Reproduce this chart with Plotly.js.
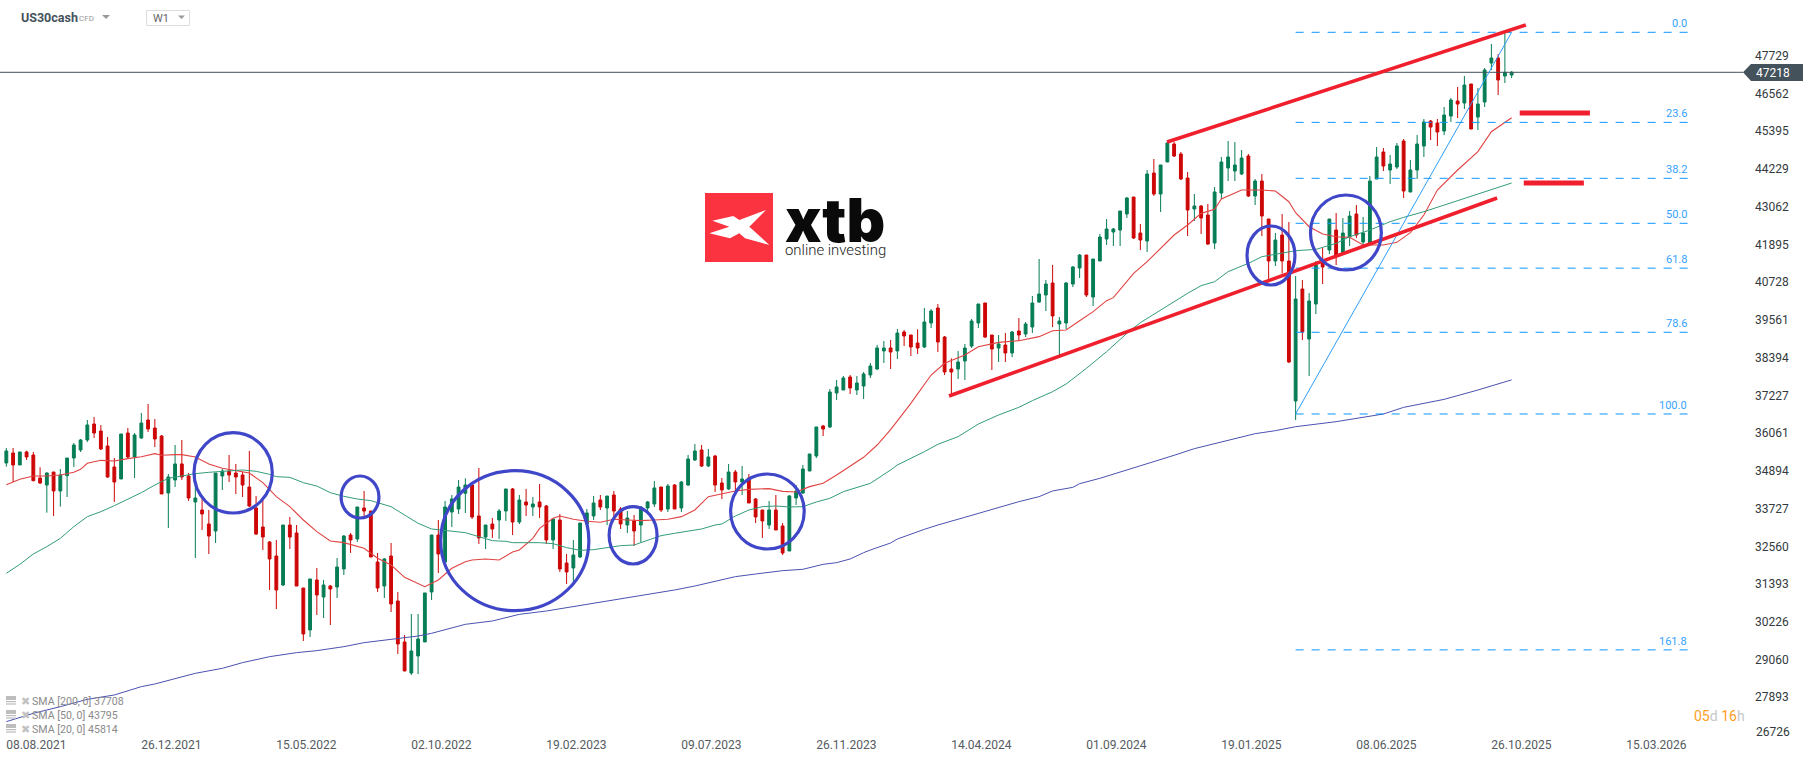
<!DOCTYPE html>
<html><head><meta charset="utf-8">
<script src="https://cdn.plot.ly/plotly-3.0.1.min.js"></script>
<style>html,body{margin:0;padding:0;background:#fff;overflow:hidden}#chart{width:1815px;height:761px}</style>
</head><body><div id="chart"></div>
<script>
const startDate = Date.UTC(2021, 7, 8);
const opens = [35138,35447,35076,35478,35385,34674,34457,34859,34272,34746,35292,35540,35849,36343,36127,35663,35014,34643,36065,35323,35911,36467,36220,35972,34210,34612,35107,34736,33932,33684,33251,33035,34736,34890,34828,34767,34395,33746,33159,32695,32262,31365,33220,32973,31272,29974,31520,30994,31334,31303,31860,32911,32788,33746,33653,32076,31334,32262,30870,29603,28644,29170,29603,31149,32911,32076,33622,33715,34200,34457,33499,32849,33251,33375,33653,34334,33313,33932,33777,33932,33808,32757,33375,32045,31891,32231,33251,33499,33993,33746,34148,33715,33220,33344,33220,33746,33870,34395,33715,34457,33746,34457,35230,35540,35045,35354,34519,34334,34859,34550,34674,34024,33684,33220,33684,33190,32416,34055,34210,34890,35354,36282,36251,37302,37395,37797,37395,37519,37859,38044,38601,38694,38601,39188,39095,38848,38724,39466,39930,39033,38044,38044,38291,38755,39466,40085,39095,38693,38786,38539,39219,39126,39343,40116,40332,40703,39435,39466,40672,41167,41569,40270,41383,42064,42280,42342,42837,43362,42249,42002,44104,43455,44445,45001,44692,43950,42991,43084,42806,41940,43486,44259,44166,44073,44630,43393,43857,42682,41383,42187,41383,37054,40517,38971,40053,41352,41723,42341,41630,42125,42836,41970,41908,43918,44753,44197,44289,45093,43516,44197,44939,45712,45650,45403,45866,46330,46268,46856,45835,46299,47505,47660,47103,47134];
const highs = [35601,35601,35478,35519,35478,35004,34849,34859,34952,35292,35756,35880,36467,36560,36313,35941,35292,36034,36220,36065,36684,36962,36498,36003,34797,35694,35849,34828,34818,34097,33684,34828,34952,35385,35107,34870,35509,34117,33993,32726,32757,33220,33468,33220,31272,31551,31891,31520,31365,32200,32911,32973,33777,34272,33653,32355,32200,32664,31149,29819,30468,30468,31118,32911,33375,33963,34148,34612,34663,34457,34983,33220,33437,33715,34334,34365,34148,34334,34086,34488,33839,33406,33561,32324,32757,33282,33715,34117,34148,34117,34272,33777,33653,33530,33808,33963,34581,34395,34488,34488,34581,35385,35725,35694,35570,35385,34674,35107,34921,35045,34797,34055,33684,33963,34148,33282,34148,34457,35076,35416,36251,36313,37425,37704,37828,37859,37828,37952,38230,38786,38910,38941,39281,39250,39095,39270,39930,39899,40054,39064,38374,38600,38817,39590,40054,40085,39095,39095,39157,39219,39621,39497,40301,41445,40796,41260,39652,40734,41229,41600,41569,41445,42218,42682,42404,42929,43362,43362,42527,44197,44537,44352,45063,45063,44754,44135,43455,43115,43146,43671,44599,45094,45063,44816,44692,43919,44073,42682,42249,42836,42589,40919,40795,40393,41383,41785,42682,42867,42712,42929,43114,42743,44011,44908,44877,44660,45032,45155,44506,45279,45774,45743,45774,46145,46423,46763,47103,46856,46732,47351,48093,47783,48453,47258];
const lows = [35024,34550,35076,35230,34571,34488,33602,33499,33787,34086,35014,35478,35787,35911,35540,34674,33932,34643,35292,34674,35880,36096,35632,34179,33128,34395,34612,33963,32200,33066,32324,32664,34303,34550,34179,34086,33777,32911,32447,31211,30623,31334,32478,31334,29634,29757,30438,30345,30128,30963,31674,32355,32695,33499,32231,31149,30963,30530,29232,28706,28582,28613,29603,30901,31736,32076,33159,33561,33592,33406,32633,32478,32819,32788,33344,32911,33251,33499,33499,33437,32633,32478,31767,31396,31458,32200,33220,33375,33684,33220,33437,33097,32973,32571,32695,33622,33777,33622,33622,33715,33622,34426,35199,35014,35014,34241,34024,34303,34272,34148,33901,33282,32819,33097,33066,32293,32416,33839,34179,34890,35292,35972,36220,37086,37395,37271,37240,37116,37766,38013,38230,38044,38353,38755,38446,38508,38693,39312,38570,37858,37240,37735,37704,38693,39312,39002,38013,38260,38260,38415,38941,39033,39157,40085,39837,39343,38446,39281,40579,40858,40270,39992,41383,41878,41847,41847,42713,42064,41723,41662,43393,42898,44445,44599,43888,42156,42620,42218,41878,41754,43300,43857,43857,44043,43362,43115,42156,40795,41228,41001,38229,36466,38940,37827,39744,40672,41599,41259,41568,41847,42094,41878,41908,43918,44166,43764,44228,43331,43516,43918,44599,45124,44939,45279,45681,45805,46083,45464,45433,46145,47289,46516,46887,47041];
const closes = [35509,35076,35478,35323,34591,34519,34828,34272,34767,35292,35694,35849,36313,36065,35570,34705,34550,36034,35323,36003,36374,36189,35880,34179,34705,35107,34705,34055,34055,33561,32880,34828,34890,34767,34705,34457,33808,32942,32849,32169,31211,33220,32849,31334,29850,31551,31056,31365,31241,31922,32880,32757,33777,33653,32231,31272,32169,30778,29541,28706,29324,29695,31118,32911,32324,33777,34024,34395,34457,33468,32819,33220,33097,33653,34334,33313,33993,33839,33870,33777,32757,33406,31860,31767,32293,33282,33592,33901,33777,34117,33653,33251,33437,33035,33777,33932,34365,33684,34426,33715,34550,35261,35509,35045,35323,34457,34303,34859,34550,34643,33901,33468,33344,33684,33066,32355,34117,34272,34952,35416,36251,36189,37333,37488,37766,37457,37612,37890,38137,38694,38694,38570,39157,39064,38724,38693,39497,39837,38879,37951,37951,38260,38693,39528,40054,39033,38662,38817,38539,39188,39095,39435,40085,40363,40672,39683,39528,40703,41198,41569,40332,41445,42125,42373,42373,42929,43331,42095,42033,44073,43455,44352,45032,44630,43919,42960,43084,42713,41909,43517,44445,44599,44352,44568,43393,43857,42775,41383,42032,41383,38260,40208,39187,40146,41259,41197,42682,41568,42249,42774,42187,42249,43856,44599,44320,44382,44939,43547,44197,45001,45681,45526,45372,45897,46361,46237,46825,45464,46237,47289,47660,46980,47217,47218];

const sma20Weeks = [0,2,4,6,8,10,11,12,14,16,18,20,22,23,25,26,28,30,32,34,36,38,40,42,44,46,48,50,53,55,57,59,62,64,66,68,69,71,73,75,76,78,79,81,82,84,86,88,90,92,94,96,98,100,102,104,106,108,110,113,115,117,119,121,123,125,127,129,131,134,137,139,142,144,146,147,150,153,155,157,159,161,163,164,167,169,173,175,177,179,180,183,186,188,190,191,193,195,197,199,201,204,206,208,210,212,215,218,220,223];
const sma20 = [34468,34632,34736,34736,34767,34849,34942,35127,35220,35199,35272,35333,35426,35375,35395,35395,35323,35107,34973,34890,34828,34529,34097,33787,33375,33014,32726,32674,32499,32190,31984,31602,31314,31520,31881,32087,32138,32169,32138,32386,32447,32808,33117,33427,33499,33396,33334,33303,33396,33375,33354,33375,33396,33478,33684,34097,34179,34272,34323,34344,34261,34241,34406,34509,34767,35045,35313,35694,36170,36982,37858,38219,38477,38734,38838,38868,38920,39044,39229,39250,39538,39817,40157,40250,41002,41363,42187,42497,42857,42981,43300,43579,43579,43548,43217,42877,42444,42218,42135,42115,41878,41878,41960,42259,42805,43578,44197,44764,45382,45814];
const sma50Weeks = [0,2,4,6,8,10,12,14,16,18,20,22,24,26,28,30,32,34,35,37,39,40,42,44,46,48,50,52,54,55,57,59,61,63,65,67,68,70,72,74,75,79,81,83,85,87,89,91,93,95,97,99,101,103,105,106,108,110,112,114,116,118,120,122,124,126,128,131,132,136,138,141,144,147,150,152,155,157,160,163,166,168,171,173,175,177,179,181,184,186,188,191,194,197,199,202,205,207,210,213,216,218,221,223];
const sma50 = [31726,32004,32324,32550,32808,33169,33478,33633,33818,34014,34220,34457,34663,34736,34808,34849,34880,34901,34921,34880,34787,34715,34694,34529,34426,34220,34107,34024,33973,33911,33787,33530,33272,33097,33045,32994,32983,32860,32736,32715,32674,32674,32643,32520,32437,32458,32509,32581,32602,32736,32891,32963,33035,33097,33220,33251,33499,33684,33787,33808,33777,33787,33932,34045,34251,34385,34509,34921,35076,35488,35715,35952,36343,36622,36859,37065,37343,37580,38064,38580,39147,39477,39868,40126,40384,40621,40744,41054,41311,41517,41600,41702,41743,41929,42135,42341,42599,42733,42908,43114,43321,43455,43681,43795];
const sma200Weeks = [0,4,8,12,16,20,22,25,28,32,35,39,43,46,50,53,57,61,63,66,68,72,76,80,84,88,91,95,99,102,106,108,111,115,118,121,123,125,127,128,131,132,136,138,142,146,150,153,155,158,159,162,166,170,172,173,176,179,182,183,185,188,191,197,202,204,207,213,218,223];
const sma200 = [27139,27397,27603,27830,27964,28222,28304,28479,28634,28788,28964,29149,29273,29335,29458,29582,29685,29788,29871,30025,30149,30252,30458,30561,30695,30850,30953,31077,31211,31334,31520,31623,31705,31808,31850,32004,32056,32169,32365,32447,32664,32787,33086,33220,33458,33705,33942,34097,34272,34385,34498,34663,34921,35158,35292,35375,35581,35735,35900,35962,36044,36137,36260,36415,36590,36652,36858,37105,37394,37708];

const yTicks = [27893,29060,30226,31393,32560,33727,34894,36061,37227,38394,39561,40728,41895,43062,44229,45395,46562,47729];
const yBottomLabel = '26726';
const xTickWeeks = [0,20,40,60,80,100,120,140,160,180,200,220,240];
const xTickLabels = ['08.08.2021','26.12.2021','15.05.2022','02.10.2022','19.02.2023','09.07.2023','26.11.2023','14.04.2024','01.09.2024','19.01.2025','08.06.2025','26.10.2025','15.03.2026'];

const fibLabels = ['0.0','23.6','38.2','50.0','61.8','78.6','100.0','161.8'];
const fibPrices = [48455,45670,43940,42549,41163,39179,36653,29359];
const lastPrice = 47218;
const legendLabels = ['SMA [200, 0] 37708','SMA [50, 0] 43795','SMA [20, 0] 45814'];
const trendLow = {w:[139.65,220.85], p:[37209,43331]};
const trendHigh = {w:[171.95,225.1], p:[45063,48680]};
const levelMarks = [{w:[224.2,234.6], p:45960},{w:[224.8,233.7], p:43795}];
const fibLeg = {w:[191,223], p:[36653,48455]};
const circles = [
 [27.8,39.4,36074,33591],[49.6,55.2,34735,33437],[64.35,86.3,34899,30570],
 [89.3,96.4,33786,32014],[107.3,118.2,34797,32478],[183.8,190.9,42466,40641],[193.2,203.7,43424,41105]];

const WEEK = 7*864e5;
const wd = w => new Date(startDate + w*WEEK).toISOString().slice(0,19).replace('T',' ');
const dates = opens.map((_,i)=>wd(i));
const W = 1815, H = 761, PW = 1745, PH = 740;
const px = x => x/PW, py = y => 1 - y/PH;

const GREEN='#067d55', RED='#cd0606', BLUE='#3f46c8', TR='#f01f2d', FIB='#0a96ff', SLATE='#44525c';

const traces = [
 {type:'candlestick', x:dates, open:opens, high:highs, low:lows, close:closes, whiskerwidth:0, hoverinfo:'none',
  increasing:{line:{color:GREEN,width:1},fillcolor:GREEN}, decreasing:{line:{color:RED,width:1},fillcolor:RED}, showlegend:false},
 {type:'scatter',mode:'lines',x:sma20Weeks.map(wd),y:sma20,line:{color:'#e04342',width:1.1},hoverinfo:'none',showlegend:false},
 {type:'scatter',mode:'lines',x:sma50Weeks.map(wd),y:sma50,line:{color:'#339c7b',width:1},hoverinfo:'none',showlegend:false},
 {type:'scatter',mode:'lines',x:sma200Weeks.map(wd),y:sma200,line:{color:'#4a52b0',width:1},hoverinfo:'none',showlegend:false}
];

const dataLine=(w0,p0,w1,p1,color,width,dash)=>({type:'line',xref:'x',yref:'y',x0:wd(w0),x1:wd(w1),y0:p0,y1:p1,line:{color,width,dash:dash||'solid'}});
const pxPath=(d,fill,lineColor,lw)=>({type:'path',xref:'paper',yref:'paper',path:d.map(([c,x,y])=>c?`${c}${px(x)},${py(y)}`:'Z').join(' '),fillcolor:fill,line:{color:lineColor||'rgba(0,0,0,0)',width:lw||0}});
const pxRect=(x0,y0,x1,y1,fill,lineColor,lw)=>({type:'rect',xref:'paper',yref:'paper',x0:px(x0),x1:px(x1),y0:py(y0),y1:py(y1),fillcolor:fill,line:{color:lineColor||'rgba(0,0,0,0)',width:lw||0}});

const shapes = [];
fibPrices.forEach(p=>shapes.push({...dataLine(191,p,249.1,p,FIB,1,'8px,8px')}));
shapes.push({type:'line',xref:'paper',yref:'y',x0:0,x1:px(1743),y0:lastPrice,y1:lastPrice,line:{color:SLATE,width:1}});
shapes.push(dataLine(fibLeg.w[0],fibLeg.p[0],fibLeg.w[1],fibLeg.p[1],'#2f9dfb',1));
shapes.push(dataLine(trendLow.w[0],trendLow.p[0],trendLow.w[1],trendLow.p[1],TR,3.6));
shapes.push(dataLine(trendHigh.w[0],trendHigh.p[0],trendHigh.w[1],trendHigh.p[1],TR,3.6));
levelMarks.forEach(m=>shapes.push(dataLine(m.w[0],m.p,m.w[1],m.p,TR,5)));
circles.forEach(c=>shapes.push({type:'circle',xref:'x',yref:'y',x0:wd(c[0]),x1:wd(c[1]),y0:c[3],y1:c[2],line:{color:BLUE,width:3.2},fillcolor:'rgba(0,0,0,0)'}));
shapes.push(pxPath([['M',1743,72.3],['L',1751,64],['L',1803,64],['L',1803,81],['L',1751,81],[null]],SLATE));
shapes.push(pxRect(705,193,773,262,'#fb3340'));
const lx=z=>680+z/3, ly=z=>170+z/3;
shapes.push(pxPath([['M',lx(97),ly(152)],['L',lx(160),ly(138)],['L',lx(178),ly(150)],['L',lx(258),ly(120)],['L',lx(208),ly(170)],['L',lx(268),ly(225)],['L',lx(195),ly(205)],['L',lx(178),ly(190)],['L',lx(150),ly(205)],['L',lx(88),ly(190)],['L',lx(148),ly(170)],[null]],'#ffffff'));
shapes.push(pxPath([['M',102,15],['L',110,15],['L',106,19],[null]],'#9a9a9a'));
shapes.push(pxRect(146.5,10.5,189.5,25.5,'#ffffff','#dddddd',1));
shapes.push(pxPath([['M',178,15.5],['L',185,15.5],['L',181.5,19],[null]],'#9a9a9a'));
[701,715,729].forEach(y=>{
 shapes.push(pxRect(6,y-5,16,y-1,'#bdbdbd'));
 shapes.push(pxRect(6,y,16,y+1.2,'#bdbdbd'));
 shapes.push(pxRect(6,y+2.4,16,y+3.6,'#bdbdbd'));
});

const ann=(x,y,text,size,color,extra)=>Object.assign({xref:'paper',yref:'paper',x:px(x),y:py(y),text,showarrow:false,xanchor:'left',yanchor:'middle',borderpad:0,font:{family:'Roboto',size,color}},extra||{});
const annotations=[];
fibLabels.forEach((t,i)=>annotations.push({xref:'x',yref:'y',x:wd(249.1),y:fibPrices[i],text:t,showarrow:false,xanchor:'right',yanchor:'bottom',borderpad:0,yshift:1,font:{family:'Roboto',size:11,color:'#36a2ff'}}));
annotations.push(ann(1755,72.5,String(lastPrice),12,'#ffffff'));
annotations.push(ann(1755,731.7,yBottomLabel,12,'#333a40'));
annotations.push(ann(20,18,'US30cash',12.5,SLATE,{font:{family:'Roboto',size:12.5,color:SLATE,weight:700}}));
annotations.push(ann(78,18.5,'CFD',8,'#9a9a9a'));
annotations.push(ann(152,19,'W1',11,'#666666'));
legendLabels.forEach((t,i)=>{
 const y=[701.5,715.5,729.5][i];
 annotations.push(ann(19.5,y-0.5,'✖',11,'#c2c2c2',{font:{family:'DejaVu Sans',size:11,color:'#c2c2c2'}}));
 annotations.push(ann(31,y,t,10.6,'#8a8a8a'));
});
annotations.push(ann(1693,716,'<span style="color:#ff9d1e">05</span><span style="color:#c4c8cc">d</span> <span style="color:#ff9d1e">16</span><span style="color:#c4c8cc">h</span>',14,'#ff9d1e'));
annotations.push(ann(784,220,'xtb',60,'#0a0a0a',{font:{family:'Inter',size:60,color:'#0a0a0a',weight:900}}));
annotations.push(ann(784,250,'online investing',14.9,'#222222',{font:{family:'Roboto',size:14.9,color:'#222222',weight:300}}));

const layout = {
 width:W,height:H,margin:{l:0,r:W-PW,t:0,b:H-PH,pad:0},paper_bgcolor:'#fff',plot_bgcolor:'#fff',
 showlegend:false,boxgap:0.4,hovermode:false,dragmode:false,
 font:{family:'Roboto'},
 xaxis:{type:'date',range:['2021-08-01 10:30:00','2026-07-16 00:00:00'],rangeslider:{visible:false},showgrid:false,zeroline:false,showline:false,
  tickmode:'array',tickvals:xTickWeeks.map(wd),ticktext:xTickLabels,ticks:'',tickangle:0,ticklabelshift:30,ticklabelstandoff:-4,tickfont:{family:'Roboto',size:12,color:'#555b60'},automargin:false},
 yaxis:{side:'right',range:[26572,49454],showgrid:false,zeroline:false,showline:false,tickmode:'array',tickvals:yTicks,ticktext:yTicks.map(String),ticks:'',ticklabelstandoff:9,tickfont:{family:'Roboto',size:12,color:'#333a40'},automargin:false},
 shapes,annotations
};
Plotly.newPlot('chart',traces,layout,{displayModeBar:false,staticPlot:true,responsive:false});
</script></body></html>
